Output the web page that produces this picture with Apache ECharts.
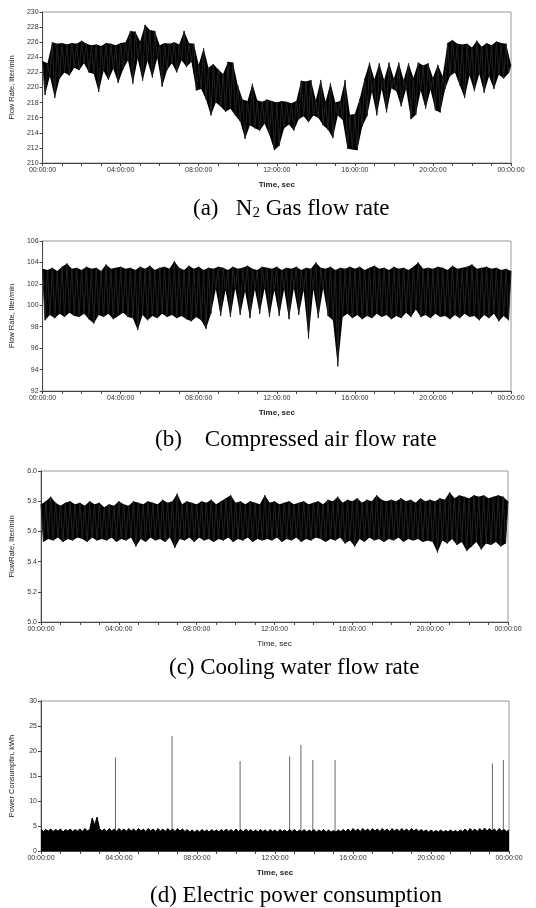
<!DOCTYPE html>
<html>
<head>
<meta charset="utf-8">
<script src="https://cdn.jsdelivr.net/npm/echarts@6/dist/echarts.min.js"></script>
<style>
  html, body { margin: 0; padding: 0; background: #fff; }
  #chart { width: 536px; height: 908px; }
</style>
</head>
<body>
<div id="chart"></div>
<script>
// one reading every 7.5 min (0.125 h), 00:00 -> 24:00
const STEP_H = 0.125
const timeLabels = ['00:00:00', '04:00:00', '08:00:00', '12:00:00', '16:00:00', '20:00:00', '00:00:00']

// (a) N2 gas flow rate, liter/min
const n2Flow = [
  223.5, 219.0, 223.2, 221.5, 226.0, 218.6, 225.8, 221.2, 225.9, 222.0, 225.7, 221.6, 225.9, 222.6, 225.8, 222.3,
  226.2, 223.2, 225.8, 222.0, 225.6, 221.8, 225.7, 219.4, 225.5, 222.2, 225.9, 221.0, 225.8, 222.5, 225.6, 220.6,
  225.9, 222.4, 226.0, 223.6, 227.5, 220.5, 227.4, 223.8, 226.1, 220.9, 228.3, 223.5, 227.6, 221.3, 227.5, 223.9,
  225.6, 220.1, 225.9, 222.3, 225.8, 223.2, 226.0, 222.0, 225.7, 223.6, 227.5, 222.7, 225.9, 223.4, 225.8, 219.6,
  223.0, 219.8, 225.2, 218.4, 222.6, 216.3, 223.1, 218.0, 222.4, 217.5, 221.8, 216.8, 223.4, 217.2, 223.3, 216.3,
  220.3, 215.5, 218.4, 213.2, 218.2, 215.0, 220.5, 214.6, 218.3, 214.3, 218.1, 215.2, 218.4, 213.7, 218.2, 211.7,
  218.0, 212.3, 218.2, 214.6, 218.1, 215.1, 217.9, 214.3, 218.2, 215.8, 220.9, 216.2, 220.8, 215.4, 221.0, 216.3,
  218.3, 216.0, 221.0, 215.0, 218.1, 214.4, 220.6, 213.3, 218.0, 216.3, 218.2, 215.7, 221.0, 211.9, 216.4, 211.8,
  216.5, 211.7, 218.5, 214.8, 221.2, 216.2, 223.3, 219.4, 221.1, 216.3, 223.2, 219.8, 221.0, 216.7, 223.3, 219.9,
  221.2, 219.5, 223.3, 217.5, 221.0, 219.8, 223.2, 215.8, 221.3, 216.4, 223.3, 219.6, 222.9, 217.2, 223.2, 219.7,
  221.3, 217.0, 223.0, 216.7, 221.5, 219.8, 225.9, 221.5, 226.3, 222.0, 225.8, 220.3, 225.7, 218.6, 225.8, 221.6,
  225.3, 219.5, 226.2, 221.8, 225.4, 219.3, 225.9, 221.5, 225.6, 219.8, 226.1, 221.7, 225.9, 221.2, 225.8, 221.9,
  223.0
]

// (b) compressed air flow rate, liter/min
const airFlow = [
  103.4, 98.6, 103.3, 99.1, 103.5, 98.8, 103.2, 99.2, 103.6, 98.9, 103.9, 99.3, 103.4, 99.0, 103.5, 98.9,
  103.3, 99.2, 103.6, 98.7, 103.4, 98.3, 103.5, 99.1, 103.2, 98.9, 103.8, 99.2, 103.4, 98.7, 103.5, 99.0,
  103.6, 99.3, 103.4, 98.9, 103.5, 98.8, 103.3, 97.7, 103.6, 99.1, 103.4, 98.6, 103.7, 99.0, 103.3, 98.8,
  103.5, 99.2, 103.6, 98.9, 103.4, 99.1, 104.1, 98.8, 103.5, 99.0, 103.3, 98.7, 103.7, 98.5, 103.4, 98.9,
  103.6, 98.6, 103.3, 97.8, 103.5, 99.2, 103.4, 101.5, 103.6, 99.0, 103.5, 101.4, 103.3, 98.9, 103.6, 101.6,
  103.4, 99.1, 103.5, 101.3, 103.7, 98.8, 103.4, 101.5, 103.3, 99.2, 103.6, 101.6, 103.5, 98.9, 103.4, 101.4,
  103.6, 99.0, 103.3, 101.5, 103.5, 98.7, 103.4, 101.6, 103.6, 99.1, 103.3, 101.4, 103.5, 96.9, 103.4, 101.5,
  104.0, 98.8, 103.5, 101.6, 103.4, 99.0, 103.6, 98.6, 103.3, 94.3, 103.5, 98.9, 103.4, 99.2, 103.6, 98.8,
  103.4, 99.1, 103.6, 98.7, 103.3, 99.0, 103.5, 98.8, 103.7, 99.2, 103.4, 98.9, 103.5, 99.1, 103.3, 98.7,
  103.6, 99.0, 103.4, 98.8, 103.5, 99.3, 103.3, 98.9, 103.6, 99.6, 104.0, 98.9, 103.4, 99.1, 103.5, 98.8,
  103.4, 99.2, 103.6, 98.9, 103.5, 99.0, 103.3, 98.7, 103.7, 99.1, 103.4, 98.8, 103.5, 99.2, 103.6, 98.9,
  103.8, 99.0, 103.4, 98.6, 103.5, 99.1, 103.6, 98.8, 103.4, 99.2, 103.5, 98.5, 103.3, 99.0, 103.4, 98.6,
  103.2
]

// (c) cooling water flow rate, liter/min
const waterFlow = [
  5.78, 5.53, 5.80, 5.55, 5.83, 5.54, 5.79, 5.56, 5.77, 5.53, 5.79, 5.55, 5.80, 5.54, 5.78, 5.56,
  5.79, 5.55, 5.77, 5.53, 5.80, 5.56, 5.78, 5.54, 5.79, 5.55, 5.76, 5.54, 5.78, 5.56, 5.77, 5.53,
  5.80, 5.55, 5.78, 5.54, 5.77, 5.56, 5.80, 5.50, 5.79, 5.55, 5.78, 5.53, 5.80, 5.56, 5.79, 5.54,
  5.78, 5.55, 5.81, 5.53, 5.79, 5.56, 5.80, 5.49, 5.85, 5.55, 5.78, 5.54, 5.80, 5.56, 5.79, 5.53,
  5.78, 5.56, 5.80, 5.54, 5.79, 5.55, 5.81, 5.53, 5.78, 5.55, 5.80, 5.54, 5.82, 5.56, 5.84, 5.53,
  5.79, 5.55, 5.80, 5.54, 5.78, 5.56, 5.80, 5.53, 5.79, 5.55, 5.78, 5.54, 5.84, 5.55, 5.79, 5.54,
  5.80, 5.56, 5.78, 5.53, 5.79, 5.55, 5.80, 5.54, 5.78, 5.56, 5.79, 5.53, 5.80, 5.55, 5.78, 5.54,
  5.79, 5.56, 5.80, 5.55, 5.78, 5.53, 5.81, 5.55, 5.80, 5.54, 5.83, 5.56, 5.79, 5.52, 5.81, 5.54,
  5.80, 5.50, 5.82, 5.55, 5.79, 5.53, 5.81, 5.56, 5.80, 5.54, 5.84, 5.55, 5.81, 5.53, 5.80, 5.55,
  5.81, 5.54, 5.80, 5.56, 5.82, 5.53, 5.80, 5.55, 5.81, 5.54, 5.79, 5.55, 5.82, 5.53, 5.80, 5.54,
  5.81, 5.53, 5.80, 5.46, 5.82, 5.54, 5.81, 5.52, 5.86, 5.55, 5.82, 5.51, 5.84, 5.53, 5.83, 5.47,
  5.82, 5.50, 5.84, 5.53, 5.83, 5.48, 5.84, 5.52, 5.82, 5.51, 5.83, 5.53, 5.84, 5.50, 5.83, 5.52,
  5.80
]

// (d) electric power consumption, kWh (base load band)
const powerBand = [
  4.4, 3.9, 4.3, 4.0, 4.4, 3.9, 4.3, 4.0, 4.4, 3.8, 4.3, 4.0, 4.4, 3.9, 4.3, 4.0,
  4.4, 3.9, 4.5, 4.0, 4.3, 6.6, 5.2, 6.8, 4.5, 4.0, 4.4, 3.9, 4.5, 4.0, 4.4, 3.9,
  4.5, 4.0, 4.4, 3.9, 4.5, 4.0, 4.4, 3.9, 4.5, 4.0, 4.4, 3.9, 4.5, 4.0, 4.4, 3.9,
  4.5, 4.0, 4.4, 3.9, 4.5, 4.0, 4.4, 3.9, 4.5, 4.0, 4.4, 3.9, 4.3, 3.8, 4.2, 3.8,
  4.2, 3.8, 4.3, 3.9, 4.2, 3.8, 4.3, 3.9, 4.2, 3.8, 4.3, 3.9, 4.4, 3.9, 4.3, 3.8,
  4.4, 3.9, 4.3, 3.8, 4.4, 3.9, 4.3, 3.8, 4.2, 3.8, 4.3, 3.9, 4.2, 3.8, 4.3, 3.9,
  4.2, 3.8, 4.3, 3.9, 4.2, 3.8, 4.3, 3.9, 4.3, 3.8, 4.2, 3.9, 4.3, 3.8, 4.2, 3.9,
  4.3, 3.8, 4.2, 3.9, 4.3, 3.8, 4.2, 3.8, 4.1, 3.8, 4.2, 3.9, 4.3, 3.9, 4.4, 3.9,
  4.5, 4.0, 4.4, 3.9, 4.5, 4.0, 4.4, 3.9, 4.5, 4.0, 4.4, 3.9, 4.5, 4.0, 4.4, 3.9,
  4.5, 4.0, 4.4, 3.9, 4.5, 4.0, 4.4, 3.9, 4.5, 4.0, 4.4, 3.9, 4.3, 3.9, 4.2, 3.8,
  4.2, 3.8, 4.1, 3.8, 4.2, 3.8, 4.1, 3.8, 4.2, 3.8, 4.1, 3.8, 4.2, 3.9, 4.4, 3.9,
  4.5, 4.0, 4.4, 3.9, 4.5, 4.0, 4.6, 4.0, 4.5, 4.0, 4.4, 3.9, 4.5, 4.0, 4.3, 3.9,
  4.2
]
// short peaks in power
const spikeHours = [3.82, 6.72, 10.21, 12.75, 13.33, 13.94, 15.08, 23.15, 23.71]
const spikeValues = [18.7, 23.0, 18.0, 18.9, 21.2, 18.2, 18.2, 17.5, 18.2]

const panels = [
  { data: n2Flow, top: 12, left: 41, right: 25, height: 151, min: 210, max: 230, step: 2, dec: 0,
    yName: 'Flow Rate, liter/min', boldX: true },
  { data: airFlow, top: 241, left: 41, right: 25, height: 150, min: 92, max: 106, step: 2, dec: 0,
    yName: 'Flow Rate, liter/min', boldX: true },
  { data: waterFlow, top: 471, left: 39, right: 28, height: 151, min: 5, max: 6, step: 0.2, dec: 1,
    yName: 'FlowRate, liter/min', boldX: false },
  { data: powerBand, top: 701, left: 37, right: 27, height: 150, min: 0, max: 30, step: 5, dec: 0,
    yName: 'Power Consumptin, kWh', boldX: true, area: true }
]

const toPoints = values => values.map((v, i) => [i * STEP_H, v])
const axisColor = '#444'
const labelFont = 'Liberation Sans'

// fill between the upper readings (even) and the lower readings (odd) so the trace reads as a solid band
const bandFill = values => (params, api) => {
  const upper = [], lower = []
  values.forEach((v, i) => {
    const pt = api.coord([i * STEP_H, v])
    if (i % 2 === 0) upper.push(pt)
    else lower.push(pt)
  })
  return {
    type: 'polygon',
    shape: { points: upper.concat(lower.reverse()) },
    style: { fill: '#000' }
  }
}

const grid = [], xAxis = [], yAxis = [], series = []
panels.forEach((p, i) => {
  grid.push({
    left: p.left, right: p.right, top: p.top, height: p.height,
    show: true, borderColor: '#999', borderWidth: 1
  })
  xAxis.push({
    gridIndex: i, type: 'value', min: 0, max: 24, interval: 4,
    axisLine: { show: true, onZero: false, lineStyle: { color: axisColor, width: 1 } },
    axisTick: { show: true, length: 3, lineStyle: { color: axisColor } },
    minorTick: { show: true, splitNumber: 4, length: 3, lineStyle: { color: axisColor } },
    splitLine: { show: false },
    axisLabel: {
      fontSize: 7, color: '#333', margin: 4, fontFamily: labelFont,
      formatter: v => timeLabels[Math.round(v / 4)]
    },
    name: 'Time, sec', nameLocation: 'middle', nameGap: 18,
    nameTextStyle: { fontSize: 8, fontFamily: labelFont, color: '#222', fontWeight: p.boldX ? 'bold' : 'normal' }
  })
  yAxis.push({
    gridIndex: i, type: 'value', min: p.min, max: p.max, interval: p.step,
    axisLine: { show: true, lineStyle: { color: axisColor, width: 1 } },
    axisTick: { show: true, length: 3, lineStyle: { color: axisColor } },
    splitLine: { show: false },
    axisLabel: {
      fontSize: 7, color: '#333', margin: 4, fontFamily: labelFont,
      formatter: v => v.toFixed(p.dec)
    },
    name: p.yName, nameLocation: 'middle', nameRotate: 90, nameGap: 25,
    nameTextStyle: { fontSize: 7.5, fontFamily: labelFont, color: '#222' }
  })
  if (!p.area) {
    series.push({
      type: 'custom', xAxisIndex: i, yAxisIndex: i,
      data: [[0, p.data[0]]],
      renderItem: bandFill(p.data),
      clip: true, animation: false, silent: true, z: 2
    })
  }
  series.push({
    type: 'line', xAxisIndex: i, yAxisIndex: i,
    data: toPoints(p.data),
    symbol: 'none', animation: false, silent: true,
    lineStyle: { color: p.area ? '#000' : '#222', width: 1, join: 'bevel' },
    areaStyle: p.area ? { color: '#000', opacity: 1 } : null,
    z: 3
  })
})

series.push({
  type: 'bar', xAxisIndex: 3, yAxisIndex: 3,
  data: spikeHours.map((h, k) => [h, spikeValues[k]]),
  barWidth: 1, itemStyle: { color: '#666' },
  animation: false, silent: true, z: 2
})

const capStyle = { fontFamily: 'Liberation Serif', fontSize: 23, fill: '#000' }
const caption = (left, top, text) => ({
  type: 'text', left: left, top: top,
  style: {
    text: text,
    rich: {
      t: capStyle,
      s: { fontFamily: 'Liberation Serif', fontSize: 15, fill: '#000', padding: [10, 0, 0, 0] }
    }
  }
})

const myChart = echarts.init(document.getElementById('chart'), null, { renderer: 'canvas' })
myChart.setOption({
  backgroundColor: '#fff',
  animation: false,
  grid: grid,
  xAxis: xAxis,
  yAxis: yAxis,
  series: series,
  graphic: [
    caption(193, 197, '{t|(a)   N}{s|2}{t| Gas flow rate}'),
    caption(155, 428, '{t|(b)    Compressed air flow rate}'),
    caption(169, 656, '{t|(c) Cooling water flow rate}'),
    caption(150, 884, '{t|(d) Electric power consumption}')
  ]
})
</script>
</body>
</html>
